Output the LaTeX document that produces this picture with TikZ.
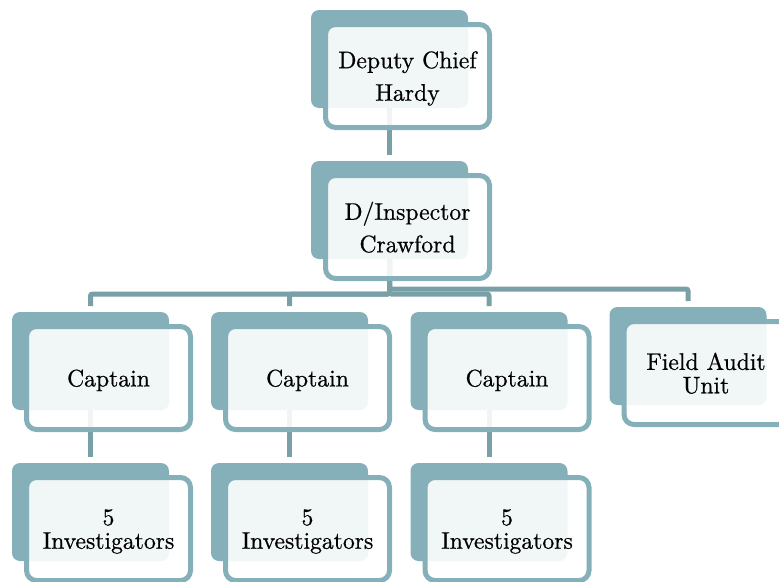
\documentclass[tikz,border=0pt]{standalone}
\usepackage{fontspec}
\setmainfont{lmroman10-regular.otf}[FakeStretch=0.985,FakeBold=0.6]
\usetikzlibrary{backgrounds}
\definecolor{tealbox}{RGB}{133,176,185}
\definecolor{conn}{RGB}{121,160,167}
\newcommand\orgbox[5]{%
  \node[backbox] (#1B) at (#2+78.5,#3+49) {};
  \node[frontbox,#5] (#1F) at (#2+96.5,#3+66) {#4};
}
\begin{document}
\begin{tikzpicture}[x=1pt,y=-1pt,
  backbox/.style={fill=tealbox, rounded corners=8pt, minimum width=157pt,
    minimum height=98pt, inner sep=0pt, outer sep=0pt, outer ysep=6pt},
  frontbox/.style={draw=tealbox, line width=5pt, fill=white, fill opacity=0.89,
    text opacity=1, rounded corners=10pt, minimum width=164pt, minimum height=103pt,
    inner sep=0pt, align=center, font=\fontsize{24}{23.5}\selectfont, text depth=0pt},
  wide/.style={font=\fontsize{24}{32.5}\selectfont},
  plain/.style={},
  link/.style={draw=conn, line width=5pt}]
\useasboundingbox (0,0) rectangle (779,581);
\clip (0,0) rectangle (779,581);
\orgbox{top}{311}{10}{Deputy Chief\\Hardy}{wide}
\orgbox{dinsp}{311}{161}{D/Inspector\\Crawford}{wide}
\orgbox{capA}{12}{312}{Captain}{plain}
\orgbox{capB}{211}{312}{Captain}{plain}
\orgbox{capC}{410.5}{312}{Captain}{plain}
\orgbox{field}{609.5}{307}{Field Audit\\Unit}{plain}
\orgbox{invA}{12}{463}{5\\Investigators}{plain}
\orgbox{invB}{211}{463}{5\\Investigators}{plain}
\orgbox{invC}{410.5}{463}{5\\Investigators}{plain}
\begin{pgfonlayer}{background}
  \coordinate (capbus) at (0,294);
  \coordinate (fieldbus) at (0,289);
  \draw[link] (topB.center) -- (dinspB.north);
  \draw[link, rounded corners=2pt] (dinspB.center) -- (dinspB.center |- fieldbus) -| (fieldB.north);
  \foreach \nm in {capA,capB,capC}{
    \draw[link, rounded corners=2pt] (dinspB.center) -- (dinspB.center |- capbus) -| (\nm B.north);
  }
  \draw[link] (capAB.center) -- (invAB.north);
  \draw[link] (capBB.center) -- (invBB.north);
  \draw[link] (capCB.center) -- (invCB.north);
\end{pgfonlayer}
\end{tikzpicture}
\end{document}
